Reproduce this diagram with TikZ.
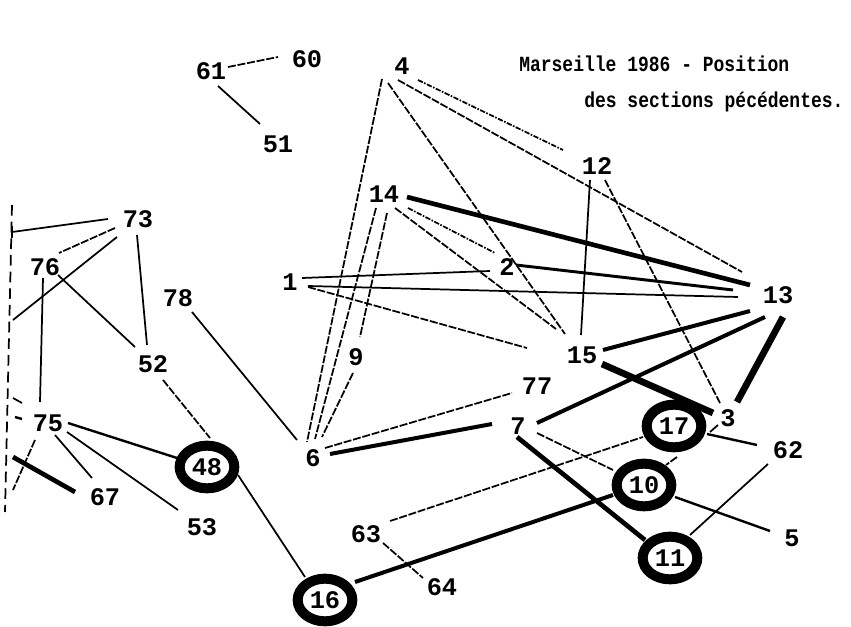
\documentclass[tikz,border=0pt]{standalone}
\usepackage{fontspec}
\setmainfont{Liberation Mono}
\usetikzlibrary{calc,shapes.geometric}
\begin{document}
\begin{tikzpicture}[x=0.75pt,y=-0.75pt,
  num/.style={font=\fontsize{19}{19}\selectfont\bfseries, inner sep=0pt},
  ring/.style={num, draw, ellipse, line width=7.5pt, minimum width=41pt, minimum height=32pt, inner sep=0pt},
  thin/.style={line width=1.3pt},
  dsh/.style={line width=1.3pt, dash pattern=on 6pt off 1.3pt},
  dshdot/.style={line width=1.3pt, dash pattern=on 4pt off 1.1pt on 1.2pt off 1.1pt},
  ldash/.style={line width=1.3pt, dash pattern=on 8pt off 4.5pt},
  wA/.style={line width=1.8pt},
  wB/.style={line width=2.2pt},
  wC/.style={line width=3pt},
  wD/.style={line width=3.5pt},
  wE/.style={line width=5pt},
  title/.style={font=\fontsize{13.5}{14}\selectfont\bfseries, inner sep=0pt, anchor=base west, transform shape, yscale=1.2}
]
\path[use as bounding box] (0,0) rectangle (851,627);

% title
\node[title] (t1) at (519,72) {Marseille 1986 - Position};
\node[title] (t2) at (584,108) {des sections pécédentes.};

% plain number nodes
\node[num] (n61) at (211,71) {61};
\node[num] (n60) at (307,59) {60};
\node[num] (n51) at (278,144) {51};
\node[num] (n4)  at (402,66) {4};
\node[num] (n12) at (597,166) {12};
\node[num] (n14) at (384,194) {14};
\node[num] (n73) at (138,219) {73};
\node[num] (n76) at (45,267) {76};
\node[num] (n1)  at (290,282) {1};
\node[num] (n2)  at (507,267) {2};
\node[num] (n13) at (778,295) {13};
\node[num] (n78) at (178,298) {78};
\node[num] (n9)  at (356,357) {9};
\node[num] (n52) at (153,364) {52};
\node[num] (n15) at (582,355) {15};
\node[num] (n77) at (537,386) {77};
\node[num] (n75) at (48,423) {75};
\node[num] (n3)  at (728,418) {3};
\node[num] (n7)  at (518,426) {7};
\node[num] (n6)  at (313,458) {6};
\node[num] (n62) at (788,450) {62};
\node[num] (n67) at (105,497) {67};
\node[num] (n53) at (202,527) {53};
\node[num] (n5)  at (792,538) {5};
\node[num] (n63) at (366,534) {63};
\node[num] (n64) at (442,587) {64};

% ringed nodes
\node[ring] (n17) at (674,426) {17};
\node[ring] (n48) at (207,467) {48};
\node[ring] (n10) at (644,485) {10};
\node[ring] (n11) at (670,558) {11};
\node[ring] (n16) at (325,600) {16};

% left border pieces
\coordinate (Ltop) at (12,205);
\coordinate (Lbot) at (5,512);
\coordinate (La) at (12,232);
\coordinate (Lb) at (13,320);
\coordinate (Lc) at (13,398);
\coordinate (Ld) at (15,417);
\coordinate (Le) at (13,490);
\coordinate (Lf) at (13,457);

\draw[ldash] (Ltop) -- (Lbot);
\draw[thin] ($(n73)+(-30,0)$) -- (La);
\draw[thin] (La) ++(0,-6) -- ++(0,12);
\draw[thin] ($(n73)+(-21,18)$) -- (Lb);
\draw[thin] (Lc) -- ($(n75)+(-26,-20)$);
\draw[wA] (Ld) -- ($(n75)+(-26,-4)$);
\draw[dsh] ($(n75)+(-13,17)$) -- (Le);
\draw[wD] (Lf) -- ($(n67)+(-30,-5)$);

% connectors
\draw[dsh] ($(n61)+(17,-4)$) -- ($(n60)+(-29,-2)$);
\draw[thin] ($(n61)+(7,15)$) -- ($(n51)+(-18,-20)$);
\draw[dsh] ($(n4)+(-20,13)$) -- ($(n6)+(-6,-16)$);
\draw[dsh] ($(n4)+(-14,17)$) -- ($(n15)+(-17,-21)$);
\draw[dshdot] ($(n4)+(16,14)$) -- ($(n12)+(-34,-16)$);
\draw[dsh] ($(n4)+(-4,14)$) -- ($(n13)+(-36,-23)$);
\draw[dsh] ($(n14)+(-8,14)$) -- ($(n6)+(2,-19)$);
\draw[dsh] ($(n14)+(3,19)$) -- ($(n9)+(4,-20)$);
\draw[dsh] ($(n9)+(-3,16)$) -- ($(n6)+(9,-21)$);
\draw[wD] ($(n14)+(23,3)$) -- ($(n13)+(-28,-10)$);
\draw[dshdot] ($(n14)+(24,14)$) -- ($(n2)+(-12,-14)$);
\draw[dsh] ($(n14)+(11,14)$) -- ($(n15)+(-26,-26)$);
\draw[thin] ($(n1)+(12,-4)$) -- ($(n2)+(-17,4)$);
\draw[thin] ($(n1)+(18,4)$) -- ($(n13)+(-40,2)$);
\draw[dsh] ($(n1)+(18,5)$) -- ($(n15)+(-55,-7)$);
\draw[wB] ($(n2)+(9,-2)$) -- ($(n13)+(-45,-5)$);
\draw[thin] ($(n12)+(-7,14)$) -- ($(n15)+(-1,-20)$);
\draw[dsh] ($(n12)+(8,14)$) -- ($(n3)+(-8,-15)$);
\draw[wC] ($(n13)+(-28,16)$) -- ($(n15)+(21,-5)$);
\draw[wC] ($(n13)+(-13,22)$) -- ($(n7)+(19,-3)$);
\draw[wE] ($(n13)+(5,22)$) -- ($(n3)+(9,-16)$);
\draw[wE] ($(n15)+(20,9)$) -- ($(n3)+(-15,-5)$);
\draw[dsh] ($(n6)+(12,-10)$) -- ($(n77)+(-25,7)$);
\draw[wC] ($(n6)+(17,-4)$) -- ($(n7)+(-26,-2)$);
\draw[dsh] ($(n7)+(19,7)$) -- ($(n10)+(-31,-15)$);
\draw[wD] ($(n7)+(-1,11)$) -- ($(n11)+(-25,-18)$);
\draw[thin] ($(n78)+(14,14)$) -- ($(n6)+(-16,-18)$);
\draw[dsh] ($(n73)+(-23,9)$) -- ($(n76)+(14,-14)$);
\draw[thin] ($(n73)+(-1,16)$) -- ($(n52)+(-6,-19)$);
\draw[thin] ($(n76)+(13,8)$) -- ($(n52)+(-18,-17)$);
\draw[thin] ($(n76)+(-2,11)$) -- ($(n75)+(-8,-21)$);
\draw[dsh] ($(n52)+(10,16)$) -- ($(n48)+(3,-29)$);
\draw[wA] ($(n75)+(20,0)$) -- ($(n48)+(-30,-9)$);
\draw[thin] ($(n75)+(7,12)$) -- ($(n67)+(-13,-19)$);
\draw[thin] ($(n75)+(19,9)$) -- ($(n53)+(-24,-17)$);
\draw[thin] ($(n48)+(31,8)$) -- ($(n16)+(-20,-23)$);
\draw[wC] ($(n16)+(30,-18)$) -- ($(n10)+(-31,10)$);
\draw[dsh] ($(n63)+(24,-13)$) -- ($(n17)+(-31,11)$);
\draw[dsh] ($(n63)+(17,9)$) -- ($(n64)+(-19,-9)$);
\draw[dsh] ($(n17)+(3,31)$) -- ($(n10)+(22,-20)$);
\draw[wA] ($(n17)+(33,8)$) -- ($(n62)+(-31,-5)$);
\draw[thin] ($(n17)+(36,6)$) -- ($(n3)+(-10,7)$);
\draw[thin] ($(n62)+(-20,14)$) -- ($(n11)+(20,-23)$);
\draw[wA] ($(n10)+(31,12)$) -- ($(n5)+(-22,-7)$);
\end{tikzpicture}
\end{document}
